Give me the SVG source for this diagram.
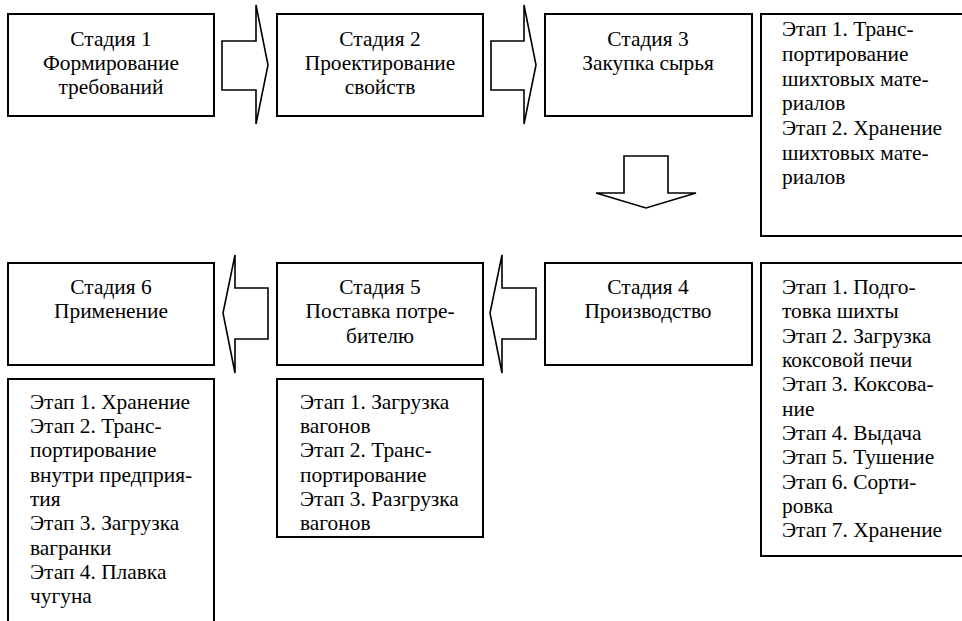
<svg xmlns="http://www.w3.org/2000/svg" width="962" height="621" viewBox="0 0 962 621">
<style>
.box{fill:#fff;stroke:#000;stroke-width:2}
.arr{fill:#fff;stroke:#000;stroke-width:1.6;stroke-linejoin:miter}
text{font-family:"Liberation Serif","Times New Roman",serif;font-size:21.4px;fill:#000}
.c{text-anchor:middle}
</style>
<rect width="962" height="621" fill="#fff"/>
<g id="connectors">
<path class="arr" d="M222,41 H256 V5 L268,65 L256,124 V90 H222 Z"/>
<path class="arr" d="M491,41 H524 V5 L536,65 L524,124 V90 H491 Z"/>
<path class="arr" d="M624,156 H668 V193 H696 L646,208 L596,193 H624 Z"/>
<path class="arr" d="M536,288 H502 V255 L490,313 L502,373 V339 H536 Z"/>
<path class="arr" d="M268,288 H235 V255 L223,313 L235,373 V339 H268 Z"/>
</g>
<g id="stage1">
<rect class="box" x="8" y="14" width="206" height="102"/>
<text class="c" x="111" y="46">Стадия 1</text>
<text class="c" x="111" y="70">Формирование</text>
<text class="c" x="111" y="94">требований</text>
</g>
<g id="stage2">
<rect class="box" x="277" y="14" width="206" height="102"/>
<text class="c" x="380" y="46">Стадия 2</text>
<text class="c" x="380" y="70">Проектирование</text>
<text class="c" x="380" y="94">свойств</text>
</g>
<g id="stage3">
<rect class="box" x="545" y="14" width="207" height="102"/>
<text class="c" x="648" y="46">Стадия 3</text>
<text class="c" x="648" y="70">Закупка сырья</text>
</g>
<g id="stage3-steps">
<rect class="box" x="761" y="14" width="210" height="222"/>
<text x="782" y="36">Этап 1. Транс-</text>
<text x="782" y="61">портирование</text>
<text x="782" y="86">шихтовых мате-</text>
<text x="782" y="110">риалов</text>
<text x="782" y="135">Этап 2. Хранение</text>
<text x="782" y="160">шихтовых мате-</text>
<text x="782" y="184">риалов</text>
</g>
<g id="stage4">
<rect class="box" x="545" y="263" width="207" height="102"/>
<text class="c" x="648" y="294">Стадия 4</text>
<text class="c" x="648" y="318">Производство</text>
</g>
<g id="stage4-steps">
<rect class="box" x="761" y="263" width="210" height="293"/>
<text x="782" y="294">Этап 1. Подго-</text>
<text x="782" y="318">товка шихты</text>
<text x="782" y="343">Этап 2. Загрузка</text>
<text x="782" y="367">коксовой печи</text>
<text x="782" y="391">Этап 3. Коксова-</text>
<text x="782" y="416">ние</text>
<text x="782" y="440">Этап 4. Выдача</text>
<text x="782" y="464">Этап 5. Тушение</text>
<text x="782" y="489">Этап 6. Сорти-</text>
<text x="782" y="513">ровка</text>
<text x="782" y="537">Этап 7. Хранение</text>
</g>
<g id="stage5">
<rect class="box" x="277" y="263" width="206" height="102"/>
<text class="c" x="380" y="294">Стадия 5</text>
<text class="c" x="380" y="318">Поставка потре-</text>
<text class="c" x="380" y="343">бителю</text>
</g>
<g id="stage5-steps">
<rect class="box" x="277" y="379" width="206" height="158"/>
<text x="300" y="409">Этап 1. Загрузка</text>
<text x="300" y="433">вагонов</text>
<text x="300" y="457">Этап 2. Транс-</text>
<text x="300" y="482">портирование</text>
<text x="300" y="506">Этап 3. Разгрузка</text>
<text x="300" y="530">вагонов</text>
</g>
<g id="stage6">
<rect class="box" x="8" y="263" width="206" height="102"/>
<text class="c" x="111" y="294">Стадия 6</text>
<text class="c" x="111" y="318">Применение</text>
</g>
<g id="stage6-steps">
<rect class="box" x="8" y="379" width="206" height="260"/>
<text x="30" y="409">Этап 1. Хранение</text>
<text x="30" y="433">Этап 2. Транс-</text>
<text x="30" y="457">портирование</text>
<text x="30" y="482">внутри предприя-</text>
<text x="30" y="506">тия</text>
<text x="30" y="530">Этап 3. Загрузка</text>
<text x="30" y="555">вагранки</text>
<text x="30" y="579">Этап 4. Плавка</text>
<text x="30" y="603">чугуна</text>
</g>
</svg>
